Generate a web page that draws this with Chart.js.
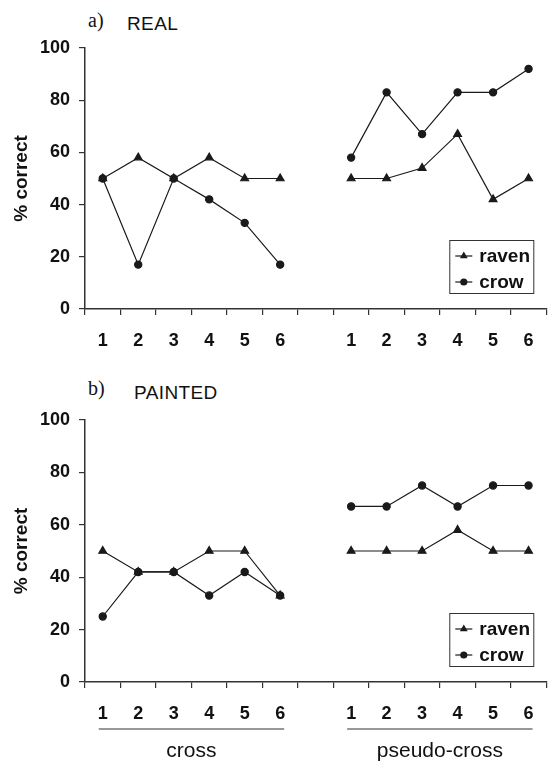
<!DOCTYPE html>
<html>
<head>
<meta charset="utf-8">
<script src="https://cdn.jsdelivr.net/npm/chart.js@4.4.1/dist/chart.umd.min.js"></script>
<style>
  body { margin: 0; background: #fff; }
  .panel { position: relative; width: 552px; }
  .panel canvas { position: absolute; left: 0; top: 0; }
  .tag { position: absolute; font-family: "Liberation Serif", "Times New Roman", serif; font-size: 20px; color: #111; line-height: 1; }
  .name { position: absolute; font-family: "Liberation Sans", Arial, sans-serif; font-size: 19px; letter-spacing: 0.4px; color: #111; line-height: 1; }
</style>
</head>
<body>
<div class="panel" style="height:370px">
  <span class="tag" style="left:88px;top:10px">a)</span>
  <span class="name" style="left:127px;top:14px">REAL</span>
  <canvas id="realChart"></canvas>
</div>
<div class="panel" style="height:393px">
  <span class="tag" style="left:88px;top:8px">b)</span>
  <span class="name" style="left:134px;top:13px">PAINTED</span>
  <canvas id="paintedChart"></canvas>
</div>
<script>
/* =========================
   DATA
========================= */

const trialLabels = ["1", "2", "3", "4", "5", "6"];
const groupNames = ["cross", "pseudo-cross"];
const yTicks = [0, 20, 40, 60, 80, 100];

const realRavenCross = [50, 58, 50, 58, 50, 50];
const realRavenPseudo = [50, 50, 54, 67, 42, 50];
const realCrowCross = [50, 17, 50, 42, 33, 17];
const realCrowPseudo = [58, 83, 67, 83, 83, 92];

const paintedRavenCross = [50, 42, 42, 50, 50, 33];
const paintedRavenPseudo = [50, 50, 50, 58, 50, 50];
const paintedCrowCross = [25, 42, 42, 33, 42, 33];
const paintedCrowPseudo = [67, 67, 75, 67, 75, 75];

// one empty slot between the two groups
const labels = [...trialLabels, "", ...trialLabels];
const join = (a, b) => [...a, null, ...b];

const SANS = "'Liberation Sans', Arial, sans-serif";
const INK = "#1a1a1a";

/* =========================
   PLUGINS
========================= */

// legend box in the lower right of the plot
const boxLegend = {
  id: "boxLegend",
  afterDraw(chart) {
    const { ctx, chartArea } = chart;
    const w = 84, h = 53;
    const x = chartArea.right - 13 - w;
    const y = chartArea.bottom - 16 - h;
    ctx.save();
    ctx.fillStyle = "#fff";
    ctx.fillRect(x, y, w, h);
    ctx.strokeStyle = "#333";
    ctx.lineWidth = 1;
    ctx.strokeRect(x + 0.5, y + 0.5, w, h);
    ctx.font = "bold 19px " + SANS;
    ctx.textBaseline = "middle";
    chart.data.datasets.forEach((ds, i) => {
      const cy = y + 16 + i * 26;
      ctx.strokeStyle = INK;
      ctx.lineWidth = 1.2;
      ctx.beginPath();
      ctx.moveTo(x + 6, cy);
      ctx.lineTo(x + 23, cy);
      ctx.stroke();
      ctx.fillStyle = INK;
      Chart.helpers.drawPoint(ctx, { pointStyle: ds.pointStyle, radius: ds.pointRadius, borderWidth: 0 }, x + 14.5, cy);
      ctx.fillStyle = "#111";
      ctx.fillText(ds.label, x + 30, cy + 1);
    });
    ctx.restore();
  },
};

// group brackets under the x axis
const groupLabels = {
  id: "groupLabels",
  afterDraw(chart) {
    const { ctx } = chart;
    const xs = chart.scales.x;
    const lineY = chart.chartArea.bottom + 47;
    ctx.save();
    groupNames.forEach((name, g) => {
      const first = g * (trialLabels.length + 1);
      const last = first + trialLabels.length - 1;
      const x1 = xs.getPixelForValue(first) - 4;
      const x2 = xs.getPixelForValue(last) + 4;
      ctx.strokeStyle = "#333";
      ctx.lineWidth = 1.2;
      ctx.beginPath();
      ctx.moveTo(x1, lineY);
      ctx.lineTo(x2, lineY);
      ctx.stroke();
      ctx.fillStyle = "#111";
      ctx.font = "21px " + SANS;
      ctx.textAlign = "center";
      ctx.textBaseline = "middle";
      ctx.fillText(name, (x1 + x2) / 2, lineY + 22);
    });
    ctx.restore();
  },
};

/* =========================
   CHART BUILDER
========================= */

function makeChart(id, raven, crow, topPad, xHeight, extraPlugins) {
  return new Chart(document.getElementById(id), {
    type: "line",
    data: {
      labels: labels,
      datasets: [
        {
          label: "raven",
          data: raven,
          pointStyle: "triangle",
          pointRadius: 4.5,
          borderColor: INK,
          backgroundColor: INK,
          borderWidth: 1.2,
          tension: 0,
        },
        {
          label: "crow",
          data: crow,
          pointStyle: "circle",
          pointRadius: 3.6,
          borderColor: INK,
          backgroundColor: INK,
          borderWidth: 1.2,
          tension: 0,
        },
      ],
    },
    options: {
      responsive: true,
      maintainAspectRatio: false,
      animation: false,
      layout: { padding: { top: topPad, right: 0, left: 0, bottom: 0 } },
      plugins: { legend: { display: false }, tooltip: { enabled: false } },
      scales: {
        x: {
          offset: true,
          grid: { offset: true, drawOnChartArea: false, tickLength: 6, color: "#333", lineWidth: 1.2 },
          border: { color: "#333", width: 1.5 },
          ticks: { color: "#111", font: { family: SANS, size: 18, weight: "bold" }, padding: 15, maxRotation: 0, autoSkip: false },
          afterFit: (s) => { s.height = xHeight; },
        },
        y: {
          min: 0,
          max: 100,
          afterBuildTicks: (s) => { s.ticks = yTicks.map((v) => ({ value: v })); },
          grid: { drawOnChartArea: false, tickLength: 6, color: "#333", lineWidth: 1.2 },
          border: { color: "#333", width: 1.5 },
          ticks: { color: "#111", font: { family: SANS, size: 18, weight: "bold" }, padding: 9 },
          title: { display: true, text: "% correct", color: "#111", font: { family: SANS, size: 19, weight: "bold" }, padding: { top: 10, bottom: 0 } },
          afterFit: (s) => { s.width = 85; },
        },
      },
    },
    plugins: [boxLegend, ...extraPlugins],
  });
}

makeChart("realChart", join(realRavenCross, realRavenPseudo), join(realCrowCross, realCrowPseudo), 48, 61, []);
makeChart("paintedChart", join(paintedRavenCross, paintedRavenPseudo), join(paintedCrowCross, paintedCrowPseudo), 50, 81, [groupLabels]);
</script>
</body>
</html>
